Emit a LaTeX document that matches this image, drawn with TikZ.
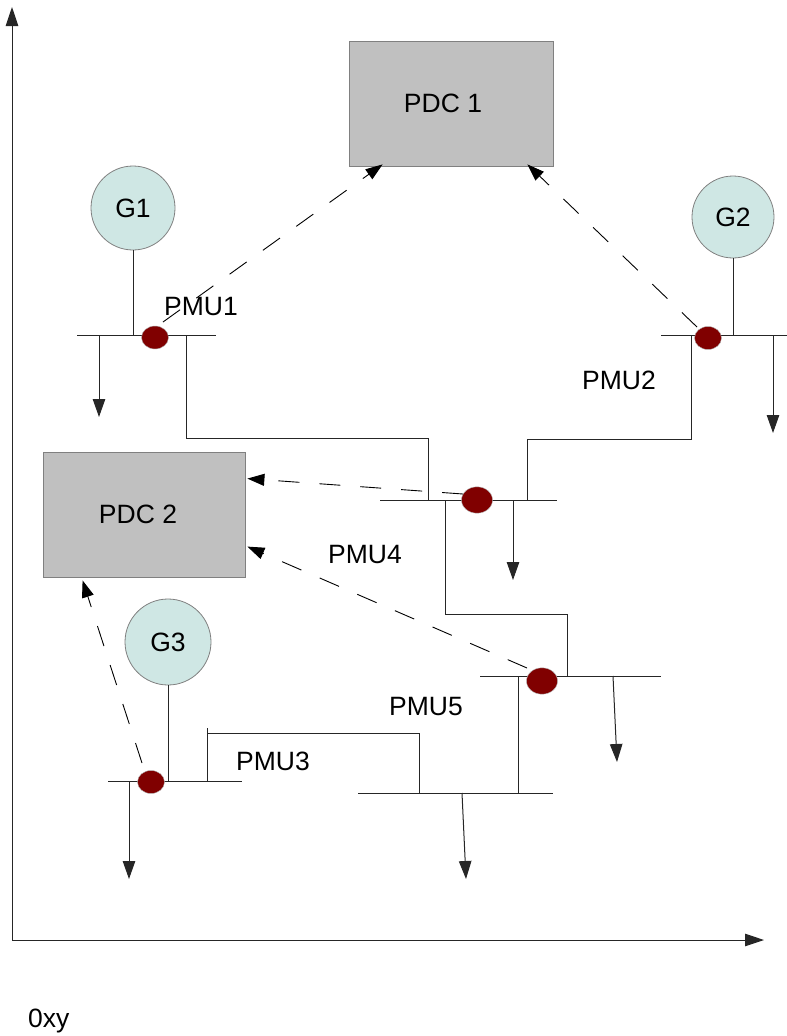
\documentclass[tikz,border=0pt]{standalone}
\usepackage{fontspec}
\setmainfont{Liberation Sans}
\usetikzlibrary{arrows.meta,calc,shapes.geometric}
\definecolor{pdcgray}{RGB}{192,192,192}
\definecolor{pdcedge}{RGB}{128,128,128}
\definecolor{genfill}{RGB}{207,231,228}
\definecolor{pmured}{RGB}{128,0,0}
\tikzset{
  pdc/.style={rectangle,draw=pdcedge,fill=pdcgray,minimum width=#1,minimum height=125pt,inner sep=0pt,line width=0.8pt},
  gen/.style={circle,draw=pdcedge,fill=genfill,minimum size=#1,inner sep=0pt,line width=0.8pt},
  pmudot/.style={ellipse,draw=pdcedge!60,fill=pmured,minimum width=#1,minimum height=0.85*#1,inner sep=0pt,line width=0.4pt},
  wire/.style={draw=black!85,line width=1pt},
  load/.style={wire,-{Triangle[length=18pt,width=12.5pt]}},
  comm/.style={draw=black,line width=0.9pt,dash pattern=on 21pt off 20pt,-{Triangle[length=17pt,width=12pt]}},
  axis/.style={draw=black!85,line width=1pt,-{Triangle[length=19pt,width=12.5pt]}},
  lbl/.style={inner sep=0pt,font=\fontsize{26.5}{31}\selectfont}
}
\begin{document}
\begin{tikzpicture}[x=1pt,y=-1pt]
\useasboundingbox (0,0) rectangle (787,1036);
% axes
\coordinate (origin) at (12,940);
\coordinate (ytop) at (12,7);
\coordinate (xend) at (764,940);
\draw[axis] (origin) -- (ytop);
\draw[axis] (origin) -- (xend);
\node[lbl,anchor=base west] (oxy) at (28,1027) {0xy};

% PDCs
\node[pdc=204pt,lbl] (pdc1) at (451,103.5) {\hspace*{-16pt}PDC 1};
\node[pdc=202pt,lbl] (pdc2) at (144,514.5) {\hspace*{-12pt}PDC 2};

% generators
\node[gen=84pt,lbl] (g1) at (133,208) {G1};
\node[gen=82pt,lbl] (g2) at (733,217) {G2};
\node[gen=86pt,lbl] (g3) at (168,642) {G3};

% buses
\coordinate (b1l) at (77,335);  \coordinate (b1r) at (216,335);
\coordinate (b2l) at (661,335); \coordinate (b2r) at (787,335);
\coordinate (b4l) at (380,500); \coordinate (b4r) at (557,500);
\coordinate (b5l) at (480,676); \coordinate (b5r) at (661,676);
\coordinate (b3l) at (108,781); \coordinate (b3r) at (242,781);
\coordinate (b6l) at (358,793); \coordinate (b6r) at (553,793);
\draw[wire] (b1l) -- (b1r);
\draw[wire] (b2l) -- (b2r);
\draw[wire] (b4l) -- (b4r);
\draw[wire] (b5l) -- (b5r);
\draw[wire] (b3l) -- (b3r);
\draw[wire] (b6l) -- (b6r);

% generator connections
\draw[wire] (g1.south) -- (g1.south |- b1l);
\draw[wire] (g2.south) -- (g2.south |- b2l);
\draw[wire] (g3.south) -- (g3.south |- b3l);

% lines between buses
\draw[wire] (186,335) -- (186,438) -- (428,438) -- (428,500);
\draw[wire] (691,335) -- (691,439) -- (527,439) -- (527,500);
\draw[wire] (445,500) -- (445,614) -- (567,614) -- (567,676);
\draw[wire] (518,676) -- (518,793);
\draw[wire] (207,781) -- (207,728);
\draw[wire] (207,733) -- (419,733) -- (419,793);

% loads
\coordinate (l1) at (99,417);
\coordinate (l2) at (773,433);
\coordinate (l4) at (513,580);
\coordinate (l5) at (617,762);
\coordinate (l3) at (129,879);
\coordinate (l6) at (466,879);
\draw[load] (99,335) -- (l1);
\draw[load] (773,335) -- (l2);
\draw[load] (513,500) -- (l4);
\draw[load] (613,676) -- (l5);
\draw[load] (129,781) -- (l3);
\draw[load] (462,793) -- (l6);

% PMU dots
\node[pmudot=27pt] (p1) at (155,337.5) {};
\node[pmudot=27pt] (p2) at (708,338) {};
\node[pmudot=31pt] (p4) at (477,500) {};
\node[pmudot=31pt] (p5) at (542,681) {};
\node[pmudot=27pt] (p3) at (151,782) {};

% communication links
\draw[comm] (163,322) -- ($(pdc1.south west)+(34,-2)$);
\draw[comm] (697,327) -- ($(pdc1.south east)+(-26,-2)$);
\draw[comm] (463,494) -- ($(pdc2.north east)+(2,27)$);
\draw[comm] (527,668) -- ($(pdc2.north east)+(2,95)$);
\draw[comm] (142,763) -- ($(pdc2.south west)+(40,3)$);

% labels
\node[lbl] (t1) at (201,307) {PMU1};
\node[lbl] (t2) at (619,380) {PMU2};
\node[lbl] (t4) at (365,555) {PMU4};
\node[lbl] (t5) at (426,707) {PMU5};
\node[lbl] (t3) at (273,761) {PMU3};
\end{tikzpicture}
\end{document}
